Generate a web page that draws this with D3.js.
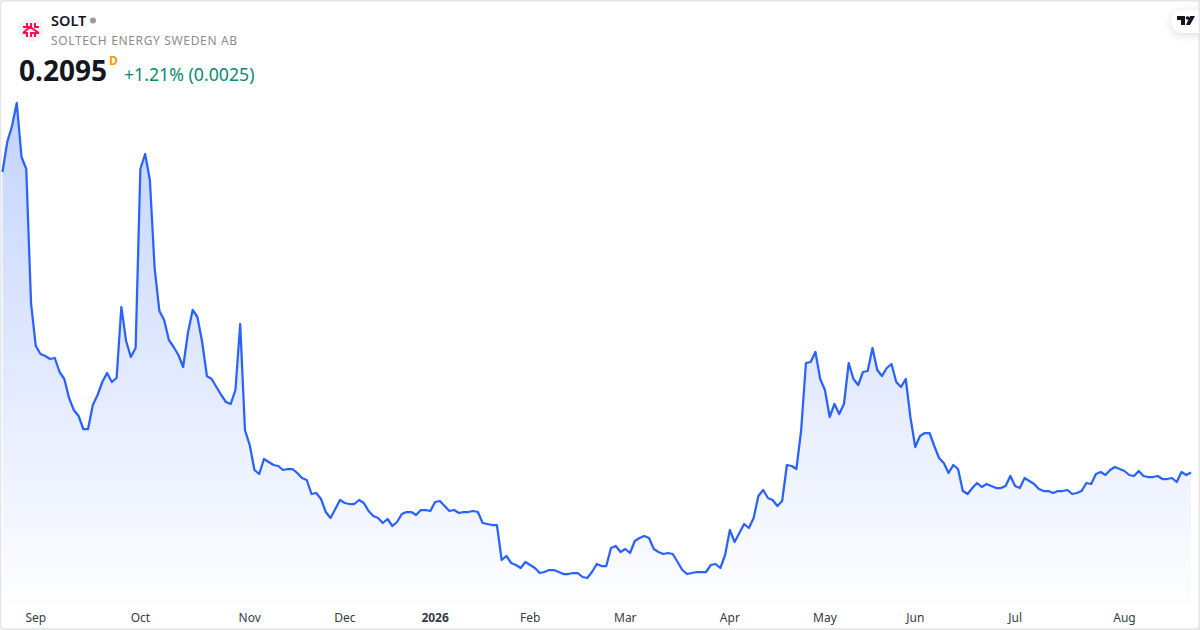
<!DOCTYPE html>
<html>
<head>
<meta charset="utf-8">
<script src="https://cdn.jsdelivr.net/npm/d3@7"></script>
<style>
  html, body { margin: 0; padding: 0; background: #fff; }
  svg { display: block; font-family: "Noto Sans", sans-serif; }
  .tick text { font-size: 12px; fill: #363a45; }
</style>
</head>
<body>
<div id="chart"></div>
<script>
// daily closes, one per trading session
const closes = [
  .510, .540, .556, .579, .525, .513, .379, .336, .328, .326, .323, .324, .310, .303, .284, .272, .266, .253, .253, .277,
  .287, .300, .309, .300, .304, .375, .341, .325, .334, .513, .528, .502, .414, .371, .362, .342, .335, .327, .315, .349,
  .372, .365, .340, .306, .303, .295, .287, .280, .278, .292, .358, .252, .237, .212, .208, .223, .220, .217, .216, .212,
  .213, .213, .209, .204, .202, .188, .189, .183, .170, .164, .173, .182, .179, .178, .178, .182, .179, .171, .166, .164,
  .159, .163, .156, .160, .168, .170, .170, .167, .172, .172, .171, .180, .181, .176, .171, .172, .169, .170, .170, .171,
  .170, .159, .158, .157, .157, .122, .126, .119, .117, .114, .120, .117, .114, .109, .110, .112, .112, .110, .108, .108,
  .109, .109, .105, .104, .110, .118, .116, .116, .134, .136, .130, .133, .129, .141, .144, .146, .144, .133, .130, .128,
  .129, .128, .120, .112, .108, .109, .110, .110, .110, .117, .118, .114, .127, .152, .140, .149, .158, .154, .164, .186,
  .192, .184, .182, .176, .181, .217, .216, .213, .252, .319, .320, .330, .303, .292, .265, .278, .268, .278, .319, .303,
  .297, .310, .311, .334, .312, .306, .314, .318, .300, .295, .303, .264, .235, .246, .249, .249, .236, .224, .219, .209,
  .217, .213, .191, .188, .194, .199, .195, .198, .196, .194, .194, .196, .206, .196, .194, .204, .201, .198, .193, .191,
  .191, .189, .191, .191, .192, .188, .189, .191, .199, .198, .208, .210, .207, .212, .215, .213, .211, .207, .206, .211,
  .206, .205, .205, .206, .203, .203, .204, .200, .210, .207, .2095
];
const tickLabels = ["Sep", "Oct", "Nov", "Dec", "2026", "Feb", "Mar", "Apr", "May", "Jun", "Jul", "Aug"];
const tickSessions = [7, 29, 52, 72, 91, 111, 131, 153, 173, 192, 213, 236];

const width = 1200, height = 630;

const svg = d3.select("#chart").append("svg")
  .attr("width", width)
  .attr("height", height)
  .attr("viewBox", [0, 0, width, height]);

const x = d3.scaleLinear().domain([0, closes.length - 1]).range([2.5, 1191]);
const y = d3.scaleLinear().domain([0.104, 0.579]).range([578, 103]);

const defs = svg.append("defs");
const grad = defs.append("linearGradient")
  .attr("id", "fill")
  .attr("gradientUnits", "userSpaceOnUse")
  .attr("x1", 0).attr("x2", 0).attr("y1", 102).attr("y2", 600);
grad.append("stop").attr("offset", 0).attr("stop-color", "#2962ff").attr("stop-opacity", 0.28);
grad.append("stop").attr("offset", 1).attr("stop-color", "#2962ff").attr("stop-opacity", 0.01);

const shadow = defs.append("filter").attr("id", "pill")
  .attr("x", "-50%").attr("y", "-50%").attr("width", "200%").attr("height", "200%");
shadow.append("feDropShadow")
  .attr("dx", 0).attr("dy", 2).attr("stdDeviation", 4)
  .attr("flood-color", "#000").attr("flood-opacity", 0.14);

svg.append("rect")
  .attr("x", 0.5).attr("y", 0.5)
  .attr("width", width - 1).attr("height", height - 1.5)
  .attr("rx", 3)
  .attr("fill", "#fff")
  .attr("stroke", "#e6e6e6")
  .attr("stroke-width", 1.75);

// price area and line
const area = d3.area()
  .x((d, i) => x(i))
  .y0(605)
  .y1(d => y(d));
const line = d3.line()
  .x((d, i) => x(i))
  .y(d => y(d));

svg.append("path").datum(closes)
  .attr("d", area)
  .attr("fill", "url(#fill)");
svg.append("path").datum(closes)
  .attr("d", line)
  .attr("fill", "none")
  .attr("stroke", "#2962ff")
  .attr("stroke-width", 2.25)
  .attr("stroke-linejoin", "round");

// time axis
const axis = svg.append("g")
  .attr("transform", "translate(-0.5,609)")
  .call(d3.axisBottom(x)
    .tickValues(tickSessions)
    .tickFormat((d, i) => tickLabels[i])
    .tickSize(0)
    .tickPadding(4));
axis.select(".domain").remove();
axis.selectAll("text")
  .attr("font-family", "'Noto Sans', sans-serif")
  .style("font-weight", (d, i) => tickLabels[i] === "2026" ? 700 : 400);

// header
const logo = svg.append("g").attr("transform", "translate(31,30)");
logo.append("circle").attr("r", 12).attr("fill", "#f0f3fa");
logo.append("path")
  .attr("d", "M-8,-3 H-1 L8,3 M8,-3 H3 M-8,3 H-3 M-1,3 H8 M-4,-7 V-3 M0,-7 V-3 M4,-7 V-3 M-4,3 V7 M0,3 V7 M4,3 V7 M-1,-3 L-8,3")
  .attr("stroke", "#f7114f")
  .attr("stroke-width", 2)
  .attr("fill", "none");

svg.append("text")
  .attr("x", 51).attr("y", 26)
  .attr("font-size", 14.5).attr("font-weight", 600).attr("fill", "#131722")
  .text("SOLT");
svg.append("circle")
  .attr("cx", 93).attr("cy", 20.5).attr("r", 3)
  .attr("fill", "#9a9a9a");
svg.append("text")
  .attr("x", 51).attr("y", 45)
  .attr("font-size", 12).attr("letter-spacing", 0.65).attr("fill", "#8c8c8c")
  .text("SOLTECH ENERGY SWEDEN AB");
svg.append("text")
  .attr("x", 19).attr("y", 81)
  .attr("font-size", 28).attr("font-weight", 700).attr("fill", "#131722")
  .text("0.2095");
svg.append("text")
  .attr("x", 109).attr("y", 65)
  .attr("font-size", 12).attr("font-weight", 700).attr("fill", "#ff9800")
  .text("D");
svg.append("text")
  .attr("x", 124).attr("y", 81)
  .attr("font-size", 17.7).attr("fill", "#0a8a72")
  .text("+1.21% (0.0025)");

// tradingview badge
const badge = svg.append("g");
badge.append("rect")
  .attr("x", 1171).attr("y", 10)
  .attr("width", 50).attr("height", 23)
  .attr("rx", 11.5)
  .attr("fill", "#fff")
  .attr("filter", "url(#pill)");
badge.append("path")
  .attr("d", "M1177,16 H1185 V25 H1181 V20 H1177 Z M1190,16 H1195 L1190,25 H1186 Z")
  .attr("fill", "#131722");
badge.append("circle").attr("cx", 1187.5).attr("cy", 18).attr("r", 1.8).attr("fill", "#131722");

// keep the frame's right edge above the badge
svg.append("path")
  .attr("d", `M${width - 0.5},0 V${height}`)
  .attr("stroke", "#e6e6e6")
  .attr("stroke-width", 1.75);
</script>
</body>
</html>
